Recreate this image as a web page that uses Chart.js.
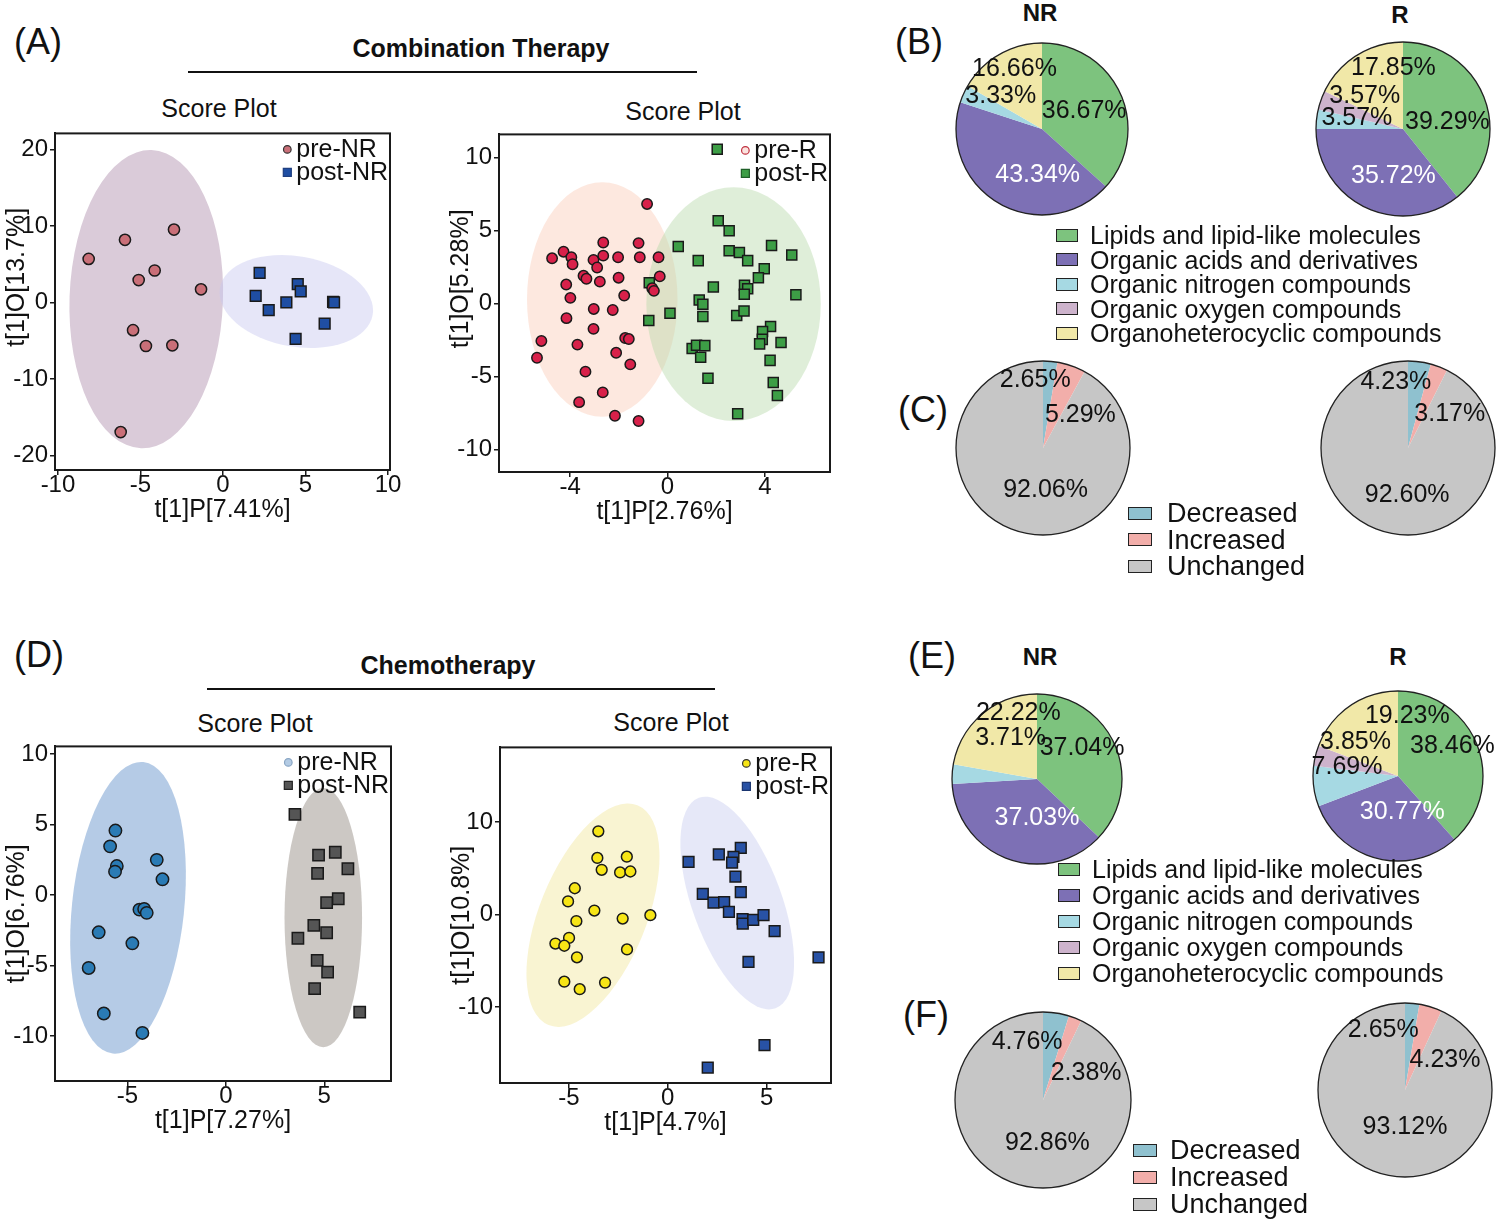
<!DOCTYPE html>
<html><head><meta charset="utf-8">
<script src="https://cdn.jsdelivr.net/npm/chart.js"></script>
<style>
html,body{margin:0;padding:0;background:#fff}
body{width:1500px;height:1220px;position:relative;overflow:hidden;font-family:'Liberation Sans',Arial,Helvetica,sans-serif;color:#111}
.abs{position:absolute}
.t{position:absolute;white-space:nowrap;line-height:1;transform:translate(-50%,-50%)}
.tl{position:absolute;white-space:nowrap;line-height:1;transform:translateY(-50%)}
.hline{position:absolute;height:2px;background:#111}
.sw{position:absolute;border:1.5px solid #222;box-sizing:border-box}
</style></head><body>

<div class="tl" style="left:14px;top:42px;font-size:36px">(A)</div>
<div class="tl" style="left:895px;top:42px;font-size:36px">(B)</div>
<div class="tl" style="left:898px;top:410px;font-size:36px">(C)</div>
<div class="tl" style="left:14px;top:655px;font-size:36px">(D)</div>
<div class="tl" style="left:908px;top:656px;font-size:36px">(E)</div>
<div class="tl" style="left:903px;top:1015px;font-size:36px">(F)</div>

<div class="t" style="left:481px;top:48px;font-size:25px;font-weight:bold">Combination Therapy</div>
<div class="hline" style="left:188px;top:71px;width:509px"></div>
<div class="t" style="left:448px;top:665px;font-size:25px;font-weight:bold">Chemotherapy</div>
<div class="hline" style="left:207px;top:688px;width:508px"></div>

<div class="t" style="left:219px;top:108px;font-size:25px">Score Plot</div>
<div class="t" style="left:683px;top:111px;font-size:25px">Score Plot</div>
<div class="t" style="left:255px;top:723px;font-size:25px">Score Plot</div>
<div class="t" style="left:671px;top:722px;font-size:25px">Score Plot</div>

<div class="t" style="left:1040px;top:13px;font-size:24px;font-weight:bold">NR</div>
<div class="t" style="left:1400px;top:15px;font-size:24px;font-weight:bold">R</div>
<div class="t" style="left:1040px;top:657px;font-size:24px;font-weight:bold">NR</div>
<div class="t" style="left:1398px;top:657px;font-size:24px;font-weight:bold">R</div>

<script>
// ---------------- DATA ----------------
// Panel A (Combination therapy) - left score plot
const a1PreNR  = [[-8.14,5.69],[-5.94,8.19],[-2.97,9.53],[-4.14,4.18],[-5.11,2.93],[-1.33,1.72],[-5.45,-3.62],[-4.67,-5.69],[-3.07,-5.60],[-6.20,-16.94]];
const a1PostNR = [[2.22,3.87],[1.98,0.86],[2.77,-0.99],[3.84,0.0],[4.53,2.41],[4.71,1.46],[6.67,0.09],[6.73,0.0],[6.16,-2.75],[4.40,-4.77]];
const a1XTicks = [-10,-5,0,5,10];
const a1YTicks = [-20,-10,0,10,20];
// confidence ellipses: [centerX, centerY, radiusX, radiusY, tiltDeg]
const a1PreEllipse  = [-4.65,0.43,4.65,19.5,2];
const a1PostEllipse = [4.44,0.13,4.7,5.9,10];

// Panel A - right score plot
const a2PreR = [[-0.84,6.81],[-4.74,3.09],[-4.27,3.54],[-3.95,3.16],[-3.90,2.68],[-3.04,2.98],[-2.89,2.46],[-2.64,4.17],[-2.64,3.27],[-2.03,3.16],[-1.19,4.13],[-1.14,3.16],[-0.37,3.16],[-0.32,1.85],[-3.45,1.89],[-3.33,1.69],[-2.78,1.49],[-2.01,1.76],[-4.16,1.29],[-3.99,0.38],[-1.78,0.54],[-3.03,-0.38],[-2.25,-0.45],[-0.63,1.04],[-0.56,0.86],[-4.15,-1.01],[-3.04,-1.74],[-5.18,-2.57],[-3.70,-2.82],[-1.74,-2.37],[-1.59,-2.44],[-2.11,-3.38],[-5.36,-3.72],[-1.53,-4.17],[-3.37,-4.67],[-2.66,-6.09],[-3.63,-6.76],[-2.16,-7.69],[-1.19,-8.05]];
const a2PostR = [[2.04,10.55],[2.08,5.66],[2.53,4.98],[0.44,3.90],[4.27,3.97],[5.10,3.31],[1.26,2.93],[2.53,3.61],[2.95,3.49],[3.29,2.93],[3.97,2.37],[3.73,1.76],[-0.75,1.42],[1.88,1.13],[3.16,1.24],[3.29,1.01],[3.15,0.63],[5.27,0.59],[1.30,0.23],[1.45,-0.05],[0.10,-0.68],[2.84,-0.83],[3.14,-0.52],[1.45,-0.90],[-0.77,-1.17],[4.23,-1.58],[3.90,-1.92],[3.89,-2.46],[3.78,-2.77],[4.66,-2.68],[1.01,-3.09],[1.19,-2.86],[1.53,-2.89],[1.36,-3.68],[4.21,-3.90],[1.66,-5.12],[4.34,-5.41],[4.51,-6.31],[2.88,-7.55]];
const a2XTicks = [-4,0,4];
const a2YTicks = [-10,-5,0,5,10];
const a2PreEllipse  = [-2.68,0.27,3.09,8.03,0];
const a2PostEllipse = [2.71,-0.05,3.58,8.0,0];

// Panel D (Chemotherapy) - left score plot
const d1PreNR  = [[-5.61,4.58],[-5.88,3.46],[-5.54,2.06],[-5.63,1.66],[-3.51,2.50],[-3.22,1.12],[-4.39,-1.03],[-4.15,-0.98],[-4.02,-1.26],[-6.46,-2.64],[-4.75,-3.42],[-6.97,-5.17],[-6.20,-8.40],[-4.24,-9.78]];
const d1PostNR = [[3.51,5.73],[4.71,2.83],[5.56,3.04],[6.20,1.87],[4.66,1.54],[5.71,-0.26],[5.12,-0.54],[4.47,-2.15],[5.12,-2.67],[3.66,-3.06],[4.64,-4.63],[5.17,-5.47],[4.51,-6.64],[6.80,-8.30]];
const d1XTicks = [-5,0,5];
const d1YTicks = [-10,-5,0,5,10];
const d1PreEllipse  = [-4.97,-0.90,2.85,10.4,6];
const d1PostEllipse = [4.95,-1.6,1.97,9.2,0];

// Panel D - right score plot
const d2PreR  = [[-3.51,8.99],[-3.56,6.11],[-2.07,6.25],[-3.34,4.83],[-2.41,4.55],[-1.89,4.65],[-4.70,2.84],[-5.04,1.42],[-3.71,0.43],[-4.62,-0.71],[-2.28,-0.43],[-0.88,-0.07],[-4.99,-2.52],[-5.68,-3.13],[-5.23,-3.37],[-2.06,-3.77],[-4.59,-4.62],[-5.23,-7.25],[-3.17,-7.35],[-4.45,-8.06]];
const d2PostR = [[1.05,5.68],[2.58,6.50],[3.69,7.21],[3.32,6.22],[3.25,5.61],[3.42,4.09],[3.69,2.42],[1.77,2.24],[2.31,1.28],[2.85,1.35],[3.09,0.28],[3.78,-0.50],[3.79,-0.99],[4.32,-0.57],[4.84,-0.07],[5.40,-1.78],[4.08,-5.12],[7.62,-4.62],[4.89,-14.1],[2.02,-16.52]];
const d2XTicks = [-5,0,5];
const d2YTicks = [-10,0,10];
const d2PreEllipse  = [-3.78,-0.07,2.7,12.8,22];
const d2PostEllipse = [3.51,1.24,2.26,12.1,-20];

// Pie charts: metabolite classes (B, E) and change categories (C, F)
const classNames = ['Lipids and lipid-like molecules','Organic acids and derivatives','Organic nitrogen compounds','Organic oxygen compounds','Organoheterocyclic compounds'];
const bNR = [36.67,43.34,3.33,0,16.66];
const bR  = [39.29,35.72,3.57,3.57,17.85];
const eNR = [37.04,37.03,3.71,0,22.22];
const eR  = [38.46,30.77,7.69,3.85,19.23];
const changeNames = ['Decreased','Increased','Unchanged'];
const cNR = [2.65,5.29,92.06];
const cR  = [4.23,3.17,92.60];
const fNR = [4.76,2.38,92.86];
const fR  = [2.65,4.23,93.12];

// ---------------- STYLE / LAYOUT ----------------
const FONT = "'Liberation Sans', Arial, Helvetica, sans-serif";
Chart.defaults.font.family = FONT;
Chart.defaults.font.size = 24;
Chart.defaults.color = '#111';
Chart.defaults.animation = false;

const classColors  = ['#7dc37e','#7d70b5','#a6d9e3','#cdb3cc','#f1e8a8'];
const changeColors = ['#8fc1cf','#f2aeaa','#c6c6c6'];

function ellipsePlugin(list){
  return {id:'ell', beforeDatasetsDraw(chart){
    const {ctx, chartArea:a, scales:{x,y}} = chart;
    ctx.save();
    ctx.beginPath(); ctx.rect(a.left,a.top,a.width,a.height); ctx.clip();
    list.forEach(e=>{
      const g = e.geom;
      const cx = x.getPixelForValue(g[0]), cy = y.getPixelForValue(g[1]);
      const rx = Math.abs(x.getPixelForValue(g[0]+g[2])-cx);
      const ry = Math.abs(y.getPixelForValue(g[1]+g[3])-cy);
      ctx.beginPath();
      ctx.ellipse(cx,cy,rx,ry,g[4]*Math.PI/180,0,2*Math.PI);
      ctx.fillStyle = e.color; ctx.fill();
    });
    ctx.restore();
  }};
}
const framePlugin = {id:'frame', afterDatasetsDraw(chart){
  const {ctx, chartArea:a} = chart;
  ctx.save(); ctx.strokeStyle='#1a1a1a'; ctx.lineWidth=2;
  ctx.strokeRect(a.left,a.top,a.width,a.height); ctx.restore();
}};
function innerLegend(items){
  return {id:'ilg', afterDraw(chart){
    const {ctx, chartArea:a} = chart;
    ctx.save(); ctx.font = '25px '+FONT; ctx.textBaseline='middle'; ctx.textAlign='left';
    const tw = Math.max(...items.map(it=>ctx.measureText(it.text).width));
    const tx = a.right - tw - 2;
    items.forEach((it,i)=>{
      const y = a.top + 16 + i*23, mx = tx - 9;
      ctx.fillStyle = it.fill; ctx.strokeStyle = it.stroke; ctx.lineWidth = 1.2;
      ctx.beginPath();
      if (it.shape==='circle') ctx.arc(mx,y,3.8,0,2*Math.PI); else ctx.rect(mx-4,y-4,8,8);
      ctx.fill(); ctx.stroke();
      ctx.fillStyle='#111'; ctx.fillText(it.text, tx, y+1);
    });
    ctx.restore();
  }};
}

function scatter(c){
  const W=55, H=57, PT=12, PR=18;
  const left=c.area[0]-W, top=c.area[1]-PT;
  const div=document.createElement('div'); div.className='abs';
  Object.assign(div.style,{left:left+'px',top:top+'px',width:(c.area[2]-left+PR)+'px',height:(c.area[3]+H-top)+'px'});
  const cv=document.createElement('canvas'); div.appendChild(cv); document.body.appendChild(div);
  const axis=(ticks,min,max,title,isY)=>({
    type:'linear', min, max,
    afterBuildTicks:s=>{s.ticks=ticks.map(v=>({value:v}));},
    afterFit:s=>{ if(isY) s.width=W; else s.height=H; },
    grid:{display:true,drawOnChartArea:false,drawTicks:true,tickLength:5,color:'#1a1a1a',lineWidth:1.5},
    border:{display:true,color:'#1a1a1a',width:2},
    ticks:{padding:isY?2:-4,color:'#111',font:{size:24}},
    title:{display:true,text:title,color:'#111',font:{size:25},padding:{top:2,bottom:2}}
  });
  // leading no-break spaces lift the rotated y title (as in the original layout)
  const yTitle = '\u00A0'.repeat(c.yLift||0) + c.yTitle;
  new Chart(cv,{type:'scatter',
    data:{datasets:[
      {label:c.names[0],data:c.pre.map(p=>({x:p[0],y:p[1]})),pointStyle:'circle',pointRadius:c.cr,backgroundColor:c.colors[0],borderColor:'#1a1a1a',borderWidth:1.5},
      {label:c.names[1],data:c.post.map(p=>({x:p[0],y:p[1]})),pointStyle:'rect',pointRadius:c.sr,backgroundColor:c.colors[1],borderColor:'#1a1a1a',borderWidth:1.5}
    ]},
    options:{responsive:true,maintainAspectRatio:false,animation:false,events:[],
      layout:{padding:{top:PT,right:PR,left:0,bottom:0}},
      plugins:{legend:{display:false},tooltip:{enabled:false}},
      scales:{x:axis(c.xt,c.xr[0],c.xr[1],c.xTitle,false), y:axis(c.yt,c.yr[0],c.yr[1],yTitle,true)}
    },
    plugins:[ellipsePlugin([{geom:c.ell[0],color:c.ellColors[0]},{geom:c.ell[1],color:c.ellColors[1]}]), framePlugin,
      innerLegend([{text:c.names[0],shape:'circle',fill:c.legColors[0],stroke:c.legStroke[0]},{text:c.names[1],shape:'rect',fill:c.legColors[1],stroke:c.legStroke[1]}])]
  });
}

scatter({area:[55,129,390,470], pre:a1PreNR, post:a1PostNR, names:['pre-NR','post-NR'],
  xt:a1XTicks, yt:a1YTicks, xr:[-10.18,10.12], yr:[-21.9,22.1], xTitle:'t[1]P[7.41%]', yTitle:'t[1]O[13.7%]', yLift:7,
  colors:['#c96f78','#1f4ea3'], cr:5.6, sr:7.6, ell:[a1PreEllipse,a1PostEllipse],
  ellColors:['rgba(188,160,186,0.55)','rgba(200,200,240,0.45)'],
  legColors:['#c96f78','#1f4ea3'], legStroke:['#333','#1f3f80']});
scatter({area:[499,130,830,472], pre:a2PreR, post:a2PostR, names:['pre-R','post-R'],
  xt:a2XTicks, yt:a2YTicks, xr:[-6.92,6.67], yr:[-11.54,11.57], xTitle:'t[1]P[2.76%]', yTitle:'t[1]O[5.28%]', yLift:7,
  colors:['#d8214a','#3d9e46'], cr:5.2, sr:7.1, ell:[a2PreEllipse,a2PostEllipse],
  ellColors:['rgba(250,205,185,0.45)','rgba(185,218,170,0.45)'],
  legColors:['#fbe3df','#3d9e46'], legStroke:['#c0303f','#1f5f28']});
scatter({area:[55,742,391,1081], pre:d1PreNR, post:d1PostNR, names:['pre-NR','post-NR'],
  xt:d1XTicks, yt:d1YTicks, xr:[-8.68,8.39], yr:[-13.19,10.55], xTitle:'t[1]P[7.27%]', yTitle:'t[1]O[6.76%]',
  colors:['#2a7bb5','#555555'], cr:6.2, sr:8.0, ell:[d1PreEllipse,d1PostEllipse],
  ellColors:['rgba(120,160,210,0.55)','rgba(172,166,160,0.62)'],
  legColors:['#b3cbe4','#555555'], legStroke:['#8aa6c4','#222']});
scatter({area:[500,743,831,1083], pre:d2PreR, post:d2PostR, names:['pre-R','post-R'],
  xt:d2XTicks, yt:d2YTicks, xr:[-8.48,8.25], yr:[-18.19,18.05], xTitle:'t[1]P[4.7%]', yTitle:'t[1]O[10.8%]',
  colors:['#f7e516','#2852a5'], cr:5.4, sr:7.6, ell:[d2PreEllipse,d2PostEllipse],
  ellColors:['rgba(243,233,165,0.5)','rgba(200,205,240,0.45)'],
  legColors:['#f7e516','#2852a5'], legStroke:['#333','#1a3570']});

// ---------------- PIES ----------------
function pieDeco(values, offsets, whiteIdx){
  return {id:'pdeco', afterDatasetsDraw(chart){
    const {ctx} = chart; const arcs = chart.getDatasetMeta(0).data;
    const a0 = arcs[0]; const R = a0.outerRadius;
    ctx.save();
    ctx.beginPath(); ctx.arc(a0.x,a0.y,R,0,2*Math.PI); ctx.strokeStyle='#222'; ctx.lineWidth=1.3; ctx.stroke();
    ctx.font='25px '+FONT; ctx.textAlign='center'; ctx.textBaseline='middle';
    values.forEach((v,i)=>{
      if(!(v>0)) return;
      const o = offsets[i];
      ctx.fillStyle = i===whiteIdx ? '#ffffff' : '#111';
      ctx.fillText(v.toFixed(2)+'%', a0.x + o[0]*R, a0.y + o[1]*R);
    });
    ctx.restore();
  }};
}
function pie(cx,cy,R,labels,values,colors,offsets,whiteIdx){
  const HW=150, HH=115;
  const div=document.createElement('div'); div.className='abs';
  Object.assign(div.style,{left:(cx-HW)+'px',top:(cy-HH)+'px',width:(2*HW)+'px',height:(2*HH)+'px'});
  const cv=document.createElement('canvas'); div.appendChild(cv); document.body.appendChild(div);
  new Chart(cv,{type:'pie',
    data:{labels,datasets:[{data:values,backgroundColor:colors,borderWidth:0}]},
    options:{responsive:true,maintainAspectRatio:false,animation:false,events:[],
      layout:{padding:{left:HW-R,right:HW-R,top:HH-R,bottom:HH-R}},
      plugins:{legend:{display:false},tooltip:{enabled:false}}},
    plugins:[pieDeco(values,offsets,whiteIdx)]});
}
// label anchor offsets (fraction of radius) - layout only
const offBNR = [[0.49,-0.21],[-0.05,0.54],[-0.48,-0.38],[0,0],[-0.32,-0.70]];
const offBR  = [[0.51,-0.08],[-0.11,0.54],[-0.53,-0.13],[-0.44,-0.38],[-0.11,-0.70]];
const offENR = [[0.53,-0.36],[0.0,0.46],[-0.31,-0.48],[0,0],[-0.22,-0.78]];
const offER  = [[0.64,-0.35],[0.05,0.42],[-0.60,-0.10],[-0.50,-0.40],[0.11,-0.70]];
const offCNR = [[-0.09,-0.78],[0.43,-0.38],[0.03,0.48]];
const offCR  = [[-0.14,-0.76],[0.48,-0.39],[-0.01,0.54]];
const offFNR = [[-0.18,-0.66],[0.49,-0.30],[0.05,0.49]];
const offFR  = [[-0.25,-0.69],[0.46,-0.34],[0.0,0.43]];

pie(1042,129,86,classNames,bNR,classColors,offBNR,1);
pie(1403,129,87,classNames,bR,classColors,offBR,1);
pie(1043,448,87,changeNames,cNR,changeColors,offCNR,-1);
pie(1408,448,87,changeNames,cR,changeColors,offCR,-1);
pie(1037,779,85,classNames,eNR,classColors,offENR,1);
pie(1398,776,85,classNames,eR,classColors,offER,1);
pie(1043,1100,88,changeNames,fNR,changeColors,offFNR,-1);
pie(1405,1090,87,changeNames,fR,changeColors,offFR,-1);

// ---------------- PIE LEGENDS (HTML) ----------------
function htmlLegend(x,y0,dy,fs,swW,swH,textX,names,colors){
  names.forEach((n,i)=>{
    const y=y0+i*dy;
    const s=document.createElement('div'); s.className='sw';
    Object.assign(s.style,{left:x+'px',top:(y-swH/2)+'px',width:swW+'px',height:swH+'px',background:colors[i]});
    document.body.appendChild(s);
    const t=document.createElement('div'); t.className='tl'; t.textContent=n;
    Object.assign(t.style,{left:textX+'px',top:y+'px',fontSize:fs+'px'});
    document.body.appendChild(t);
  });
}
htmlLegend(1056,235,24.5,25,22,13,1090,classNames,classColors);
htmlLegend(1058,869,26,25,22,13,1092,classNames,classColors);
htmlLegend(1128,513,26.5,27,24,13,1167,changeNames,changeColors);
htmlLegend(1133,1150,27,27,24,13,1170,changeNames,changeColors);
</script>
</body></html>
